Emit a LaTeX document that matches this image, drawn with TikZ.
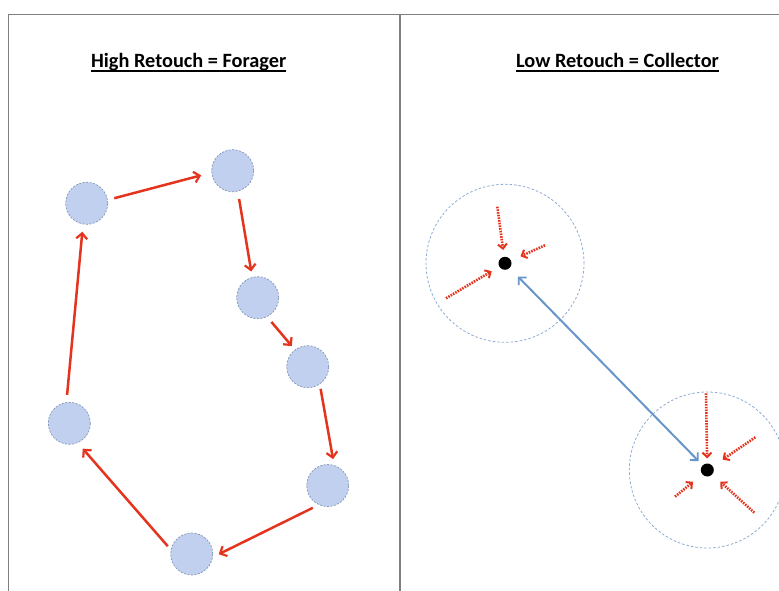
\documentclass[tikz,border=0pt]{standalone}
\usepackage{fontspec}
\setmainfont{Carlito}
\usetikzlibrary{arrows.meta}
\definecolor{framegray}{RGB}{128,128,128}
\definecolor{spotfill}{RGB}{192,208,238}
\definecolor{spotline}{RGB}{130,150,185}
\definecolor{arrowred}{RGB}{228,52,30}
\definecolor{linkblue}{RGB}{104,150,202}
\definecolor{rangeline}{RGB}{140,170,210}
\tikzset{
  frameline/.style={draw=framegray, line width=1.4pt},
  titletext/.style={font=\bfseries\fontsize{20.3}{24}\selectfont, anchor=base, inner sep=0pt},
  titlerule/.style={draw=black, line width=1.2pt},
  spot/.style={circle, fill=spotfill, draw=spotline, dash pattern=on 2pt off 1.5pt, line width=0.7pt, minimum size=42pt, inner sep=0pt, outer sep=0pt},
  moveline/.style={draw=arrowred, line width=2.5pt, -{Straight Barb[length=5.5pt,width=11pt,line width=2.2pt]}},
  rangering/.style={circle, draw=rangeline, dash pattern=on 2.5pt off 2pt, line width=0.8pt, inner sep=0pt},
  camp/.style={circle, fill=black, minimum size=13pt, inner sep=0pt, outer sep=0pt},
  gather/.style={draw=arrowred, line width=2.6pt, dash pattern=on 1.6pt off 1.1pt, -{Straight Barb[length=4.5pt,width=9pt,line width=2pt]}},
  linkline/.style={draw=linkblue, line width=2pt, {Straight Barb[length=5.5pt,width=11pt,line width=1.8pt]}-{Straight Barb[length=5.5pt,width=11pt,line width=1.8pt]}}
}
\begin{document}
\begin{tikzpicture}[x=1pt,y=-1pt]
\useasboundingbox (0,0) rectangle (779,591);
% frame
\draw[frameline] (8.7,591) -- (8.7,14.3) -- (779,14.3);
\draw[frameline] (400,14.3) -- (400,591);
% titles
\node[titletext] (t1) at (188.7,67.7) {High Retouch = Forager};
\node[titletext] (t2) at (617.5,67.7) {Low Retouch = Collector};
\draw[titlerule] ([yshift=-3.3pt]t1.base west) -- ([yshift=-3.3pt]t1.base east);
\draw[titlerule] ([yshift=-3.3pt]t2.base west) -- ([yshift=-3.3pt]t2.base east);
% forager spots
\node[spot] (c1) at (86.7,203.3) {};
\node[spot] (c2) at (232.7,170.7) {};
\node[spot] (c3) at (257.7,297.7) {};
\node[spot] (c4) at (307.7,366.7) {};
\node[spot] (c5) at (327.7,485.5) {};
\node[spot] (c6) at (191.7,554) {};
\node[spot] (c7) at (69.3,423.3) {};
\draw[moveline, shorten <=7pt, shorten >=11pt] (c1.9.6) -- (c2.185.9);
\draw[moveline, shorten <=8pt, shorten >=6pt] (c2.284.5) -- (c3.105);
\draw[moveline, shorten <=7pt, shorten >=5pt] (c3.296.2) -- (c4.127.7);
\draw[moveline, shorten <=5pt, shorten >=6.5pt] (c4.305.2) -- (c5.72.4);
\draw[moveline, shorten <=7pt, shorten >=7pt] (c5.246.7) -- (c6.351.1);
\draw[moveline, shorten <=5pt, shorten >=8pt] (c6.169.6) -- (c7.293.1);
\draw[moveline, shorten <=7.6pt, shorten >=7.8pt] (c7.98.6) -- (c1.260.6);
% collector
\node[rangering, minimum size=158pt] (b1) at (505,263.3) {};
\node[rangering, minimum size=156pt] (b2) at (707.3,470) {};
\node[camp] (d1) at (505,263.3) {};
\node[camp] (d2) at (707.3,470) {};
\draw[linkline, shorten <=12pt, shorten >=6pt] (d1) -- (d2);
% gathering trips, camp 1
\coordinate (g1) at (497.3,206.7);
\coordinate (g2) at (545,245.3);
\coordinate (g3) at (446,298.3);
\draw[gather, shorten >=7pt] (g1) -- (d1);
\draw[gather, shorten >=10.5pt] (g2) -- (d1);
\draw[gather, shorten >=9pt] (g3) -- (d1);
% gathering trips, camp 2
\coordinate (h1) at (706,393.3);
\coordinate (h2) at (755.3,437.3);
\coordinate (h3) at (675,496.7);
\coordinate (h4) at (754.3,512.7);
\draw[gather, shorten >=5pt] (h1) -- (d2);
\draw[gather, shorten >=12pt] (h2) -- (d2);
\draw[gather, shorten >=12pt] (h3) -- (d2);
\draw[gather, shorten >=11pt] (h4) -- (d2);
\end{tikzpicture}
\end{document}
